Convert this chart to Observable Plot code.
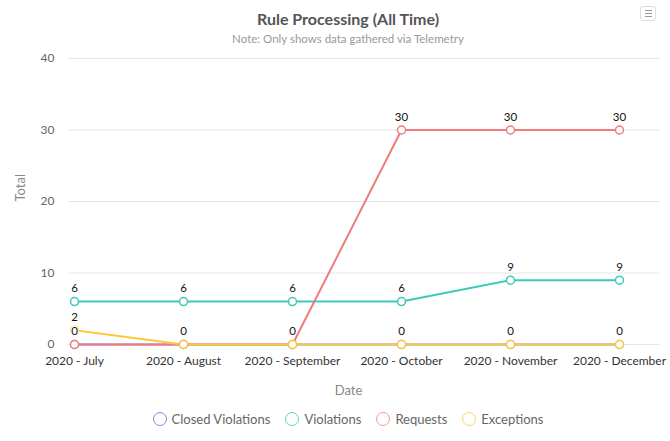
<!DOCTYPE html>
<html>
<head>
<meta charset="utf-8">
<script src="https://cdn.jsdelivr.net/npm/d3@7"></script>
<script src="https://cdn.jsdelivr.net/npm/@observablehq/plot@0.6"></script>
<style>
  html, body { margin: 0; padding: 0; background: #fff; font-family: Lato, "Open Sans", sans-serif; }
  #wrap { position: relative; width: 670px; height: 441px; overflow: hidden; }
  #title { position: absolute; left: 0; width: 696px; top: 9px; text-align: center; font-size: 16px; font-weight: bold; color: #555; }
  #subtitle { position: absolute; left: 0; width: 696px; top: 32px; text-align: center; font-size: 11.5px; color: #999; }
  #chart { position: absolute; left: 0; top: 50px; }
  #legend { position: absolute; left: 0; width: 696px; top: 411px; display: flex; justify-content: center; gap: 15px; font-size: 13px; color: #666; }
  .item { display: flex; align-items: center; gap: 5px; }
  .sym { width: 14px; height: 14px; border-radius: 50%; border: 1.5px solid; box-sizing: border-box; background: #fff; }
  #menu { position: absolute; left: 640px; top: 6px; width: 16px; height: 15px; border: 1px solid #ddd; border-radius: 3px; box-sizing: border-box; }
  #menu span { position: absolute; left: 4px; width: 7px; height: 1px; background: #999; }
</style>
</head>
<body>
<div id="wrap">
  <div id="title"></div>
  <div id="subtitle"></div>
  <div id="menu"><span style="top:3px"></span><span style="top:6px"></span><span style="top:9px"></span></div>
  <div id="chart"></div>
  <div id="legend"></div>
</div>
<script>
const titleText = "Rule Processing (All Time)";
const subtitleText = "Note: Only shows data gathered via Telemetry";
const months = ["2020 - July", "2020 - August", "2020 - September", "2020 - October", "2020 - November", "2020 - December"];
const seriesNames = ["Closed Violations", "Violations", "Requests", "Exceptions"];
const closedViolations = [0, 0, 0, 0, 0, 0];
const violations = [6, 6, 6, 6, 9, 9];
const requests = [0, 0, 0, 30, 30, 30];
const exceptions = [2, 0, 0, 0, 0, 0];
const yTicks = [0, 10, 20, 30, 40];
const lineColors = ["#8085e9", "#3ec9ba", "#f07b7b", "#fcc840"];
const legendColors = ["#8a8ad8", "#5dd6c8", "#f29a9a", "#fdd56a"];

document.getElementById("title").textContent = titleText;
document.getElementById("subtitle").textContent = subtitleText;

const seriesValues = [closedViolations, violations, requests, exceptions];
const data = [];
seriesNames.forEach((s, i) => months.forEach((m, j) => data.push({series: s, month: m, value: seriesValues[i][j]})));

const plot = Plot.plot({
  width: 670,
  height: 355,
  marginLeft: 68,
  marginRight: 10,
  marginTop: 8,
  marginBottom: 61,
  style: {fontFamily: "Lato, 'Open Sans', sans-serif", background: "#fff"},
  x: {type: "point", domain: months, range: [72, 621], padding: 0},
  y: {domain: [0, 40]},
  color: {domain: seriesNames, range: lineColors},
  marks: [
    Plot.gridY(yTicks, {stroke: "#e6e6e6", strokeOpacity: 1, strokeWidth: 1}),
    Plot.axisY(yTicks, {tickSize: 0, tickPadding: 14, fontSize: 12, fill: "#666", label: null}),
    Plot.axisX({tickSize: 0, tickPadding: 12, fontSize: 12, fill: "#333", label: null}),
    Plot.text(["Total"], {frameAnchor: "left", rotate: -90, dx: -48, fontSize: 13, fill: "#888"}),
    Plot.text(["Date"], {frameAnchor: "bottom", dy: 50, dx: -16, fontSize: 13, fill: "#888"}),
    Plot.line(data, {x: "month", y: "value", z: "series", stroke: "series", strokeWidth: 2}),
    ...seriesNames.map(s => Plot.dot(data.filter(d => d.series === s), {x: "month", y: "value", r: 4, fill: "#fff", stroke: "series", strokeWidth: 1.5})),
    Plot.text(data, {x: "month", y: "value", text: d => String(d.value), dy: -13, fontSize: 11.5, fill: "#111", stroke: "#fff", strokeWidth: 2, paintOrder: "stroke"})
  ]
});
document.getElementById("chart").appendChild(plot);

const legend = document.getElementById("legend");
seriesNames.forEach((s, i) => {
  const it = document.createElement("div");
  it.className = "item";
  const sym = document.createElement("div");
  sym.className = "sym";
  sym.style.borderColor = legendColors[i];
  const lab = document.createElement("span");
  lab.textContent = s;
  it.appendChild(sym); it.appendChild(lab);
  legend.appendChild(it);
});
</script>
</body>
</html>
